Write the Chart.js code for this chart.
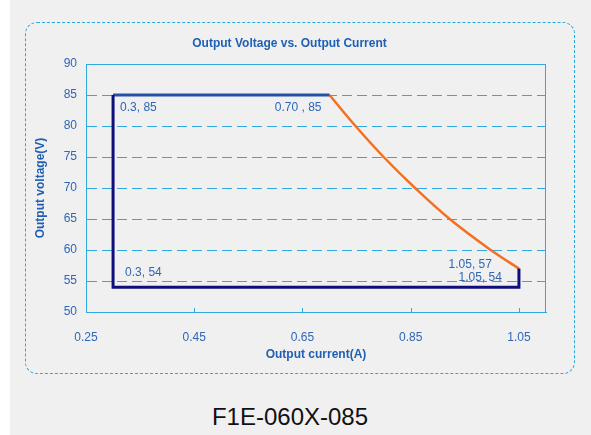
<!DOCTYPE html>
<html>
<head>
<meta charset="utf-8">
<script src="https://cdn.jsdelivr.net/npm/chart.js@4.4.1/dist/chart.umd.min.js"></script>
<style>
    body { margin: 0; background: #f0f0f0; width: 591px; height: 435px; overflow: hidden; position: relative; font-family: 'Liberation Sans', Arial, sans-serif; }
    #strip { position: absolute; left: 0; top: 0; width: 10px; height: 435px; background: #ffffff; }
    #frame { position: absolute; left: 25px; top: 22px; width: 550px; height: 352px; border: 1.5px dashed #25a9e0; border-radius: 12px; box-sizing: border-box; }
    #wrap { position: absolute; left: 0; top: 0; width: 591px; height: 380px; }
    #caption { position: absolute; left: 0; top: 403px; width: 580px; text-align: center; font-size: 24px; line-height: 28px; color: #111; }
</style>
</head>
<body>
<div id="strip"></div>
<div id="frame"></div>
<div id="wrap"><canvas id="chart"></canvas></div>
<div id="caption">F1E-060X-085</div>

<script>
// Dữ liệu biểu đồ
const frameX = [0.3, 0.3, 1.05, 1.05];
const frameY = [85, 54, 54, 57];
const topX = [0.3, 0.70];
const topY = [85, 85];
const curveX = [0.70, 0.748, 0.80, 0.858, 0.922, 0.998, 1.05];
const curveY = [85, 80, 75, 70, 65, 60, 57];
const xTicks = [0.25, 0.45, 0.65, 0.85, 1.05];
const yTicks = [50, 55, 60, 65, 70, 75, 80, 85, 90];
const pointLabels = [
    { x: 0.3, y: 85, text: '0.3, 85' },
    { x: 0.70, y: 85, text: '0.70 , 85' },
    { x: 0.3, y: 54, text: '0.3, 54' },
    { x: 1.05, y: 57, text: '1.05, 57' },
    { x: 1.05, y: 54, text: '1.05, 54' }
];
// offset của từng nhãn (pixel)
const labelOffsets = [
    { dx: 7, dy: 13, align: 'left' },
    { dx: -8, dy: 13, align: 'right' },
    { dx: 12, dy: -15, align: 'left' },
    { dx: -27, dy: -4, align: 'right' },
    { dx: -17, dy: -10, align: 'right' }
];

const blue = '#2f66b6';
const lineBlue = '#30a8e0';
const FONT = '"Liberation Sans", Arial, sans-serif';

const toPoints = (xs, ys) => xs.map((x, i) => ({ x: x, y: ys[i] }));

// Khung plot + vạch chia hướng vào trong
const plotFrame = {
    id: 'plotFrame',
    beforeDatasetsDraw(chart) {
        const { ctx, chartArea: a, scales } = chart;
        ctx.save();
        ctx.strokeStyle = lineBlue;
        ctx.lineWidth = 1;
        ctx.strokeRect(a.left + 0.5, a.top + 0.5, a.right - a.left - 1, a.bottom - a.top);
        xTicks.slice(1).forEach(v => {
            const px = Math.round(scales.x.getPixelForValue(v)) + 0.5;
            ctx.beginPath();
            ctx.moveTo(px, a.bottom);
            ctx.lineTo(px, a.bottom - 4);
            ctx.stroke();
        });
        ctx.restore();
    }
};

// Nhãn điểm dữ liệu
const pointText = {
    id: 'pointText',
    afterDatasetsDraw(chart) {
        const { ctx, scales } = chart;
        ctx.save();
        ctx.font = '12px ' + FONT;
        ctx.fillStyle = blue;
        ctx.textBaseline = 'middle';
        pointLabels.forEach((p, i) => {
            const o = labelOffsets[i];
            ctx.textAlign = o.align;
            ctx.fillText(p.text, scales.x.getPixelForValue(p.x) + o.dx, scales.y.getPixelForValue(p.y) + o.dy);
        });
        ctx.restore();
    }
};

new Chart(document.getElementById('chart'), {
    type: 'scatter',
    data: {
        datasets: [
            {
                data: toPoints(frameX, frameY),
                showLine: true,
                borderColor: '#0d0d7c',
                borderWidth: 3,
                pointRadius: 0
            },
            {
                data: toPoints(topX, topY),
                showLine: true,
                borderColor: '#2352a6',
                borderWidth: 3,
                pointRadius: 0
            },
            {
                data: toPoints(frameX.slice(0, 2), frameY.slice(0, 2)),
                showLine: true,
                borderColor: '#3f6fd2',
                borderWidth: 1,
                borderDash: [2, 2],
                pointRadius: 0
            },
            {
                data: toPoints(curveX, curveY),
                showLine: true,
                borderColor: '#f37021',
                borderWidth: 2.5,
                pointRadius: 0,
                tension: 0.4
            }
        ]
    },
    options: {
        responsive: true,
        maintainAspectRatio: false,
        animation: false,
        layout: { padding: { left: 33, right: 45, top: 36, bottom: 18 } },
        plugins: {
            legend: { display: false },
            tooltip: { enabled: false },
            title: {
                display: true,
                text: 'Output Voltage vs. Output Current',
                color: '#1f5fb5',
                font: { family: FONT, size: 12, weight: 'bold', lineHeight: 1.2 },
                padding: { top: 0, bottom: 13.6 }
            }
        },
        scales: {
            x: {
                type: 'linear',
                min: 0.25,
                max: 1.1,
                afterBuildTicks: scale => { scale.ticks = xTicks.map(v => ({ value: v })); },
                afterFit: scale => { scale.height = 50; },
                grid: { display: false },
                border: { display: true, color: lineBlue, width: 1 },
                ticks: {
                    color: blue,
                    padding: 10,
                    maxRotation: 0,
                    font: { family: FONT, size: 12 },
                    callback: v => v.toFixed(2)
                },
                title: {
                    display: true,
                    text: 'Output current(A)',
                    color: '#1f5fb5',
                    padding: 0,
                    font: { family: FONT, size: 12, weight: 'bold', lineHeight: 1.2 }
                }
            },
            y: {
                type: 'linear',
                min: 50,
                max: 90,
                afterBuildTicks: scale => { scale.ticks = yTicks.map(v => ({ value: v })); },
                afterFit: scale => { scale.width = 53; },
                grid: {
                    drawTicks: false,
                    lineWidth: 1,
                    color: ctx => (ctx.tick && (ctx.tick.value === 50 || ctx.tick.value === 90)) ? 'rgba(0,0,0,0)' : lineBlue
                },
                border: { display: true, color: lineBlue, width: 1, dash: [10, 5] },
                ticks: {
                    color: blue,
                    padding: 9,
                    font: { family: FONT, size: 12 }
                },
                title: {
                    display: true,
                    text: 'Output voltage(V)',
                    color: '#1f5fb5',
                    padding: 0,
                    font: { family: FONT, size: 12, weight: 'bold', lineHeight: 1.2 }
                }
            }
        }
    },
    plugins: [plotFrame, pointText]
});
</script>
</body>
</html>
